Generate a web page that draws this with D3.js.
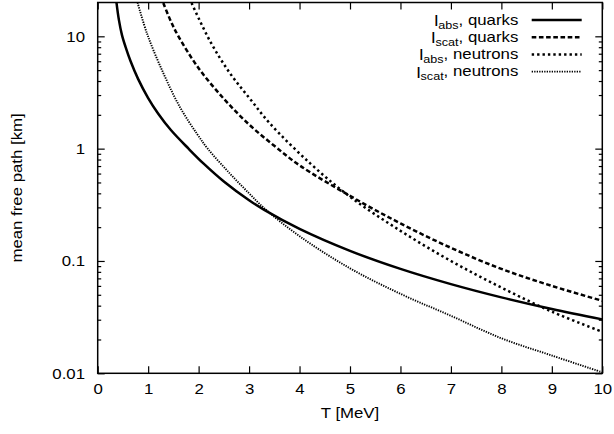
<!DOCTYPE html>
<html>
<head>
<meta charset="utf-8">
<script src="https://cdn.jsdelivr.net/npm/d3@7"></script>
<style>
  html, body { margin: 0; padding: 0; background: #fff; }
  svg { display: block; }
  text { font-family: "Liberation Sans", Arial, Helvetica, sans-serif; fill: #000; }
</style>
</head>
<body>
<svg id="chart" width="614" height="434"></svg>
<script>
// Mean free paths (km) versus temperature T (MeV)
const tAbsQuarks   = [0.37, 0.42, 0.48, 0.55, 0.65, 0.8, 1.0, 1.2, 1.45, 1.8, 2.1, 2.5, 3.0, 3.3, 4.0, 5.0, 6.0, 7.0, 8.0, 9.0, 10.0];
const absQuarks    = [20.3, 14.0, 10.3, 8.1, 6.03, 4.18, 2.82, 2.045, 1.464, 1.0, 0.735, 0.51, 0.347, 0.285, 0.193, 0.123, 0.085, 0.0622, 0.0474, 0.0373, 0.0302];

const tScatQuarks  = [1.3, 1.45, 1.6, 2.0, 2.5, 3.0, 3.5, 4.0, 5.0, 6.0, 7.0, 8.0, 9.0, 10.0];
const scatQuarks   = [19.8, 13.6, 10.0, 5.2, 2.78, 1.64, 1.06, 0.71, 0.38, 0.216, 0.131, 0.085, 0.060, 0.0442];

const tAbsNeutrons = [1.86, 2.23, 2.62, 3.02, 3.41, 4.21, 5.0, 6.0, 7.0, 8.0, 9.0, 10.0];
const absNeutrons  = [19.8, 9.0, 4.7, 2.77, 1.68, 0.74, 0.373, 0.1855, 0.100, 0.058, 0.0354, 0.0234];

const tScatNeutrons = [0.79, 0.98, 1.31, 1.64, 1.97, 2.18, 2.62, 3.0, 3.3, 4.01, 5, 6, 7, 8, 9, 10];
const scatNeutrons  = [20, 10.5, 4.6, 2.3, 1.35, 1.0, 0.6, 0.40, 0.295, 0.165, 0.086, 0.051, 0.0325, 0.0205, 0.0144, 0.0102];

const seriesSub   = ["abs", "scat", "abs", "scat"];
const seriesName  = ["quarks", "quarks", "neutrons", "neutrons"];

const xTicks      = [0, 1, 2, 3, 4, 5, 6, 7, 8, 9, 10];
const yTicks      = [0.01, 0.1, 1, 10];
const yTickLabels = ["0.01", "0.1", "1", "10"];
const xTitle = "T [MeV]";
const yTitle = "mean free path [km]";

// ---- layout ----
const svg = d3.select("#chart");
const L = 97.7, R = 602.3, T = 2.5, B = 373.3;
const SX = 1.2;              // wide lettering
const FS = 14;

const x = d3.scaleLinear().domain([0, 10]).range([L, R]);
const y = d3.scaleLog().domain([0.01, 20]).range([B, T]);

const minor = [];
[0.01, 0.1, 1, 10].forEach(d => { for (let k = 2; k <= 9; k++) { const v = k * d; if (v < 20) minor.push(v); } });

// ticks (all pointing into the plot)
function styleAxis(g) {
  g.select(".domain").remove();
  g.selectAll(".tick line").attr("stroke", "#000").attr("stroke-width", 1.2);
  g.selectAll("text").attr("font-size", FS).attr("font-family", "Liberation Sans, Arial, sans-serif").attr("fill", "#000");
}

const gx = svg.append("g").attr("transform", `translate(0,${B})`)
  .call(d3.axisBottom(x).tickValues(xTicks).tickSize(-7).tickSizeOuter(0).tickPadding(10.8).tickFormat(d3.format("d")));
styleAxis(gx);
gx.selectAll("text").attr("transform", `scale(${SX},1)`);

svg.append("g").attr("transform", `translate(0,${T})`)
  .call(d3.axisTop(x).tickValues(xTicks).tickSize(-7).tickSizeOuter(0).tickFormat(""))
  .call(styleAxis);

const gy = svg.append("g").attr("transform", `translate(${L},0)`)
  .call(d3.axisLeft(y).tickValues(yTicks).tickSize(-7).tickSizeOuter(0).tickFormat((d, i) => yTickLabels[i]));
styleAxis(gy);
gy.selectAll("text").attr("x", -12.7 / SX).attr("dy", "0.34em").attr("transform", `scale(${SX},1)`);

svg.append("g").attr("transform", `translate(${L},0)`)
  .call(d3.axisLeft(y).tickValues(minor).tickSize(-3.5).tickSizeOuter(0).tickFormat(""))
  .call(styleAxis);

svg.append("g").attr("transform", `translate(${R},0)`)
  .call(d3.axisRight(y).tickValues(yTicks).tickSize(-7).tickSizeOuter(0).tickFormat(""))
  .call(styleAxis);
svg.append("g").attr("transform", `translate(${R},0)`)
  .call(d3.axisRight(y).tickValues(minor).tickSize(-3.5).tickSizeOuter(0).tickFormat(""))
  .call(styleAxis);

// frame
svg.append("rect").attr("x", L).attr("y", T).attr("width", R - L).attr("height", B - T)
  .attr("fill", "none").attr("stroke", "#000").attr("stroke-width", 1.5);

// axis titles
svg.append("text").attr("transform", `translate(${(L + R) / 2},418) scale(${SX},1)`)
  .attr("text-anchor", "middle").attr("font-size", FS).text(xTitle);
svg.append("text").attr("transform", `translate(21.5,${(T + B) / 2}) rotate(-90) scale(${SX},1)`)
  .attr("text-anchor", "middle").attr("font-size", FS).text(yTitle);

// curves
svg.append("clipPath").attr("id", "plotClip")
  .append("rect").attr("x", L).attr("y", T).attr("width", R - L).attr("height", B - T);

const styles = [
  { w: 2.5, dash: null },
  { w: 2.5, dash: "4.6,2.6" },
  { w: 2.5, dash: "2.4,3.0" },
  { w: 1.9, dash: "1.3,1.2" }
];
const temps = [tAbsQuarks, tScatQuarks, tAbsNeutrons, tScatNeutrons];
const vals  = [absQuarks, scatQuarks, absNeutrons, scatNeutrons];

const line = d3.line().x(d => x(d[0])).y(d => y(d[1])).curve(d3.curveCatmullRom.alpha(0.5));
const plotG = svg.append("g").attr("clip-path", "url(#plotClip)");
temps.forEach((ts, i) => {
  const pts = ts.map((t, j) => [t, vals[i][j]]);
  plotG.append("path").datum(pts).attr("d", line)
    .attr("fill", "none").attr("stroke", "#000")
    .attr("stroke-width", styles[i].w)
    .attr("stroke-dasharray", styles[i].dash);
});

// key
const keyRows = [20, 37.2, 54.4, 71.6];
const key = svg.append("g");
keyRows.forEach((ry, i) => {
  key.append("line").attr("x1", 531.7).attr("x2", 581.7).attr("y1", ry).attr("y2", ry)
    .attr("stroke", "#000").attr("stroke-width", styles[i].w).attr("stroke-dasharray", styles[i].dash);
  const t = key.append("text").attr("transform", `translate(518.3,${ry + 4.5}) scale(${SX},1)`)
    .attr("text-anchor", "end").attr("font-size", FS);
  t.append("tspan").attr("font-size", 15.5).attr("dy", 1.5).text("l");
  t.append("tspan").attr("font-size", 10.5).attr("dy", 2.5).text(seriesSub[i]);
  t.append("tspan").attr("dy", -4).text(", " + seriesName[i]);
});
</script>
</body>
</html>
